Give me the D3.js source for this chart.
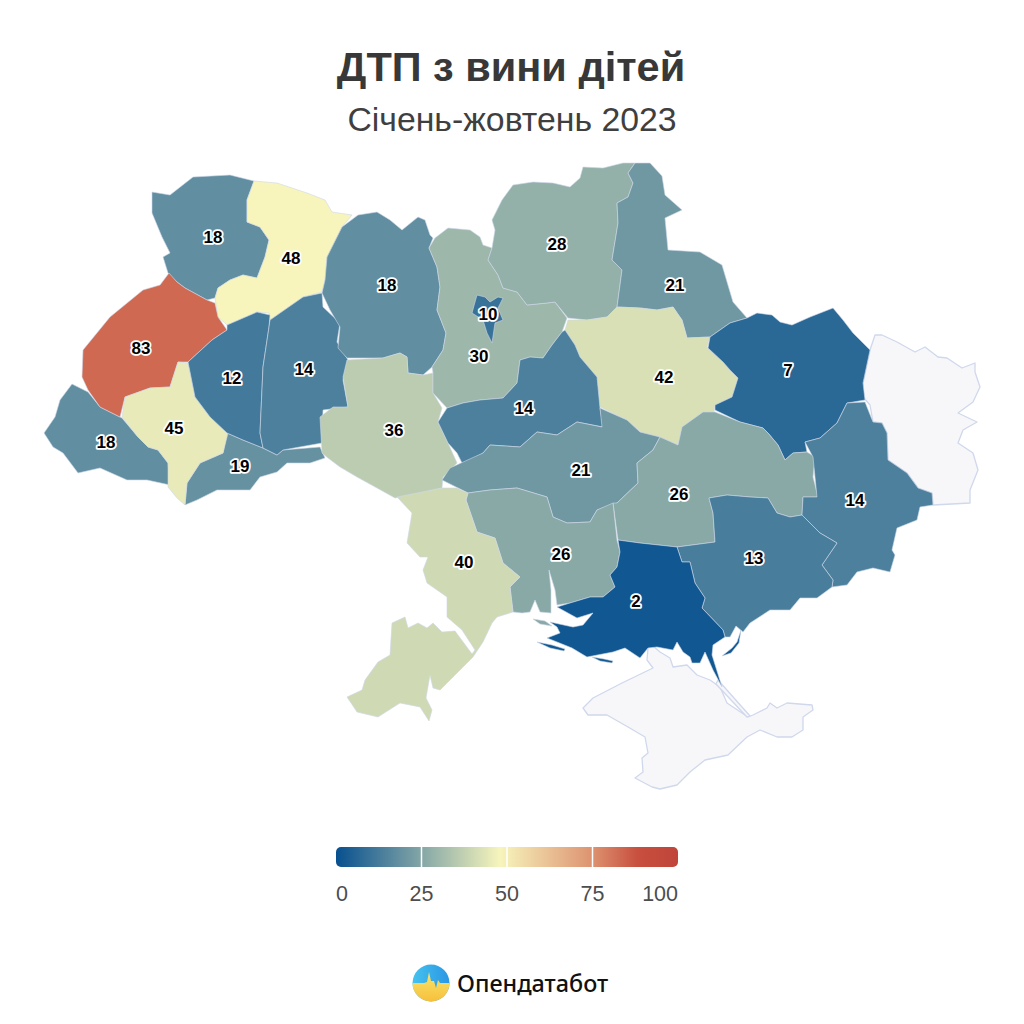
<!DOCTYPE html>
<html>
<head>
<meta charset="utf-8">
<script src="https://cdn.jsdelivr.net/npm/d3@7"></script>
<style>
  html, body { margin: 0; background: #fff; }
  svg { display: block; font-family: "Liberation Sans", Arial, sans-serif; }
  .region { stroke: #cdd6ea; stroke-width: 0.6; stroke-linejoin: round; }
  .nodata { fill: #f7f7f9; stroke: #cfd8ec; stroke-width: 1.3; stroke-linejoin: round; }
  .value { font-size: 17px; font-weight: 700; fill: #000; stroke: #fff; stroke-width: 3.6px;
           stroke-linejoin: round; paint-order: stroke; text-anchor: middle; }
</style>
</head>
<body>
<svg id="chart" width="1024" height="1024"></svg>
<script>
const TITLE = "ДТП з вини дітей";
const SUBTITLE = "Січень-жовтень 2023";
const BRAND = "Опендатабот";

const regions = ["Закарпатська", "Чернівецька", "Волинська", "Рівненська", "Львівська", "Івано-Франківська",
    "Тернопільська", "Хмельницька", "Житомирська", "Вінницька", "Київська", "Київ", "Чернігівська", "Сумська",
    "Полтавська", "Харківська", "Черкаська", "Кіровоградська", "Дніпропетровська", "Донецька", "Запорізька",
    "Миколаївська", "Одеська", "Херсонська"];
const values = [18, 19, 18, 48, 83, 45, 12, 14, 18, 36, 30, 10, 28, 21, 42, 7, 14, 21, 26, 14, 13, 26, 40, 2];

const legendTicks = [0, 25, 50, 75, 100];
const colorStops = [0, 48, 75, 88, 100];
const colorValues = ["#07508f", "#f7f5bc", "#dd9270", "#c8503f", "#c0443a"];

// Region outlines (map units = page pixels)
const outlines = {
    "Закарпатська": [[72,384],[88,392],[100,407],[122,418],[138,437],[148,447],[158,450],[168,463],[170,485],[147,480],[127,480],[100,468],[78,473],[63,453],[53,447],[44,433],[55,417],[60,400]],
    "Чернівецька": [[227,433],[243,440],[263,448],[277,455],[283,450],[320,447],[325,458],[310,463],[287,463],[277,472],[260,477],[250,490],[217,490],[197,500],[185,505],[187,483],[200,463],[223,453]],
    "Волинська": [[152,192],[170,195],[193,177],[230,175],[254,181],[247,200],[247,222],[260,227],[269,240],[265,257],[257,278],[243,275],[230,280],[218,288],[215,298],[207,300],[185,288],[177,282],[168,273],[163,257],[170,253],[162,237],[152,213]],
    "Рівненська": [[254,181],[277,183],[307,193],[325,200],[332,212],[352,215],[342,227],[327,257],[325,280],[322,292],[303,297],[270,320],[269,313],[257,312],[227,325],[218,317],[215,298],[218,288],[230,280],[243,275],[257,278],[265,257],[269,240],[260,227],[247,222],[247,200]],
    "Львівська": [[169,273],[177,282],[185,288],[207,300],[215,303],[218,317],[227,330],[212,340],[188,362],[178,362],[170,387],[150,388],[125,397],[120,417],[100,407],[88,390],[82,377],[83,350],[110,317],[143,290],[160,285]],
    "Івано-Франківська": [[178,362],[188,363],[195,397],[210,417],[228,433],[223,453],[200,463],[187,483],[185,505],[177,498],[168,487],[168,463],[158,450],[148,447],[138,437],[122,417],[125,397],[150,388],[170,387]],
    "Тернопільська": [[227,325],[257,312],[270,315],[269,327],[263,367],[260,433],[263,448],[243,440],[227,433],[210,417],[195,397],[188,362],[212,340],[227,330]],
    "Хмельницька": [[270,320],[303,297],[322,293],[323,307],[340,323],[337,342],[348,360],[343,380],[348,407],[323,410],[322,443],[283,450],[277,455],[263,448],[260,433],[263,367],[269,327]],
    "Житомирська": [[358,215],[377,212],[390,220],[402,230],[418,217],[425,220],[430,235],[433,238],[429,248],[437,267],[440,287],[437,310],[446,333],[443,350],[432,367],[423,375],[408,373],[407,357],[400,353],[383,358],[347,358],[338,348],[340,327],[330,310],[322,293],[325,280],[327,257],[342,227]],
    "Вінницька": [[347,360],[383,358],[400,353],[407,357],[408,373],[423,375],[433,373],[433,393],[442,408],[438,422],[448,443],[457,463],[443,477],[442,488],[420,493],[395,498],[377,488],[357,477],[340,467],[328,458],[322,453],[320,417],[333,407],[348,407],[343,377]],
    "Київська": [[435,238],[448,228],[470,230],[480,237],[483,245],[492,248],[488,260],[498,275],[503,288],[517,292],[527,305],[547,303],[555,302],[567,318],[562,332],[552,345],[543,358],[530,357],[520,360],[517,383],[503,398],[480,400],[463,403],[447,408],[433,393],[433,373],[432,367],[443,350],[446,333],[437,310],[440,287],[437,267],[429,248]],
    "Київ": [[477,295],[485,297],[490,302],[498,297],[503,298],[498,308],[503,320],[495,323],[492,343],[487,333],[483,320],[472,313],[475,302]],
    "Чернігівська": [[492,248],[495,230],[492,220],[502,200],[513,185],[533,182],[553,183],[570,187],[580,178],[583,167],[603,168],[623,163],[635,163],[628,173],[633,183],[628,197],[617,203],[618,223],[612,260],[622,270],[617,307],[607,317],[587,320],[568,318],[555,302],[547,303],[527,305],[517,292],[503,288],[498,275],[488,260]],
    "Сумська": [[635,163],[650,163],[662,176],[665,195],[682,210],[665,218],[668,250],[700,252],[722,265],[733,302],[747,318],[730,323],[710,337],[687,338],[682,320],[673,307],[657,310],[640,308],[617,307],[622,270],[612,260],[618,223],[617,203],[628,197],[633,183],[628,173]],
    "Полтавська": [[568,320],[587,320],[607,317],[617,307],[640,308],[657,310],[673,307],[682,320],[687,338],[710,337],[707,347],[723,362],[730,370],[738,378],[732,397],[715,405],[714,412],[703,412],[682,427],[678,445],[660,437],[640,432],[627,420],[600,407],[597,377],[580,357],[575,345],[565,330]],
    "Харківська": [[710,337],[730,323],[747,318],[757,313],[772,315],[780,322],[792,325],[810,317],[833,308],[843,320],[853,333],[870,350],[863,383],[865,400],[847,403],[837,423],[820,438],[805,442],[807,452],[793,453],[785,460],[778,445],[768,433],[763,428],[740,422],[715,410],[715,405],[732,397],[738,378],[730,370],[723,362],[708,348]],
    "Черкаська": [[565,330],[575,345],[580,357],[597,377],[600,408],[603,427],[577,422],[557,435],[537,432],[520,447],[490,445],[483,453],[463,465],[457,453],[448,443],[438,422],[447,408],[463,403],[480,400],[503,398],[517,383],[520,360],[530,357],[543,358],[552,345],[562,332]],
    "Кіровоградська": [[442,480],[450,468],[483,453],[490,445],[520,447],[537,432],[557,435],[577,422],[602,427],[600,408],[627,420],[640,432],[660,437],[653,450],[637,463],[638,483],[617,503],[597,510],[590,522],[567,523],[553,517],[547,497],[517,488],[490,490],[468,493]],
    "Дніпропетровська": [[678,445],[682,427],[703,412],[715,412],[740,422],[763,428],[768,433],[778,445],[785,460],[793,453],[807,452],[815,457],[813,477],[818,497],[803,497],[802,515],[790,517],[777,513],[768,498],[750,497],[727,495],[709,498],[713,513],[715,542],[677,547],[640,543],[618,540],[613,503],[617,503],[638,483],[637,463],[653,450],[660,437]],
    "Донецька": [[847,403],[865,402],[873,422],[882,423],[887,433],[888,460],[907,473],[918,488],[932,493],[933,505],[920,507],[917,520],[897,528],[892,550],[895,555],[890,572],[873,568],[857,572],[847,585],[832,587],[833,580],[822,565],[837,543],[820,533],[802,515],[803,497],[817,497],[813,457],[805,442],[820,438],[837,423]],
    "Запорізька": [[709,498],[727,495],[750,497],[768,498],[777,513],[790,517],[802,515],[820,533],[837,543],[822,565],[833,580],[832,587],[817,598],[800,598],[790,610],[770,610],[750,623],[743,632],[736,626],[730,637],[725,637],[723,630],[702,608],[705,598],[695,583],[690,562],[682,562],[677,547],[715,542],[713,513]],
    "Миколаївська": [[468,493],[490,490],[517,488],[547,497],[553,517],[567,523],[590,522],[597,510],[613,503],[617,540],[620,552],[617,567],[610,575],[615,587],[603,597],[590,597],[570,603],[557,605],[555,590],[549,570],[551,590],[551,613],[540,612],[535,600],[530,612],[522,613],[513,612],[510,587],[520,577],[503,563],[495,538],[477,532],[466,500]],
    "Одеська": [[397,497],[417,493],[442,488],[457,488],[468,493],[466,500],[477,532],[495,538],[503,563],[520,577],[510,587],[513,612],[497,617],[492,623],[483,642],[473,657],[457,673],[440,690],[433,688],[430,675],[426,698],[432,710],[429,721],[420,707],[400,703],[378,717],[357,712],[347,697],[362,690],[365,680],[378,662],[390,655],[392,623],[405,617],[408,628],[418,623],[427,628],[433,623],[442,632],[455,631],[472,654],[475,650],[462,630],[447,617],[447,597],[427,583],[423,570],[428,557],[420,557],[407,543],[412,513]],
    "Херсонська": [[618,540],[640,543],[677,547],[682,562],[690,562],[695,583],[705,598],[702,608],[723,630],[725,637],[713,645],[712,655],[722,687],[713,670],[705,652],[700,663],[692,663],[690,657],[683,652],[677,642],[673,650],[657,647],[648,648],[640,658],[625,648],[613,652],[587,657],[572,648],[547,638],[560,633],[557,627],[550,622],[573,627],[583,625],[593,613],[577,618],[557,607],[570,603],[590,597],[603,597],[615,587],[610,575],[617,567],[620,552]]
};

// small islands and spits belonging to the regions above
const islands = [
    { region: "Херсонська", ring: [[537,642],[552,645],[565,649],[564,651],[550,648]] },
    { region: "Херсонська", ring: [[592,657],[604,659],[613,661],[612,663],[600,661]] },
    { region: "Херсонська", ring: [[722,656],[732,648],[737,642],[741,630],[739,643],[731,653]] },
    { region: "Миколаївська", ring: [[533,619],[545,621],[552,626],[540,624]] }
];

const noData = {
    "Луганська": [[870,350],[875,335],[882,335],[897,342],[915,352],[925,347],[938,357],[947,358],[962,368],[975,363],[975,372],[980,387],[973,402],[958,413],[977,422],[963,430],[958,443],[973,453],[978,470],[970,490],[970,503],[933,505],[932,493],[918,488],[907,473],[888,460],[887,433],[882,423],[873,422],[870,405],[863,397],[863,383]],
    "Крим": [[648,648],[652,645],[660,652],[670,658],[673,667],[687,665],[697,675],[710,680],[720,687],[727,703],[748,717],[753,715],[767,708],[770,703],[777,708],[787,703],[812,705],[813,710],[803,717],[803,730],[792,737],[777,737],[760,730],[747,737],[728,755],[705,760],[690,772],[677,785],[660,789],[652,787],[635,778],[643,772],[642,758],[648,753],[645,737],[628,727],[607,715],[588,715],[583,708],[593,698],[622,683],[653,668],[647,660]],
    "Арабатська стрілка": [[718,680],[750,716],[747,717],[716,684]]
};

// where each number sits
const labelAt = [[106,442],[240,466],[213,237],[291,258],[141,348],[174,428],[232,378],[304,369],[387,285],[394,430],
    [479,356],[488,314],[557,244],[675,285],[664,377],[788,370],[524,408],[581,470],[679,494],[855,500],[754,558],
    [561,554],[464,562],[636,601]];

const svg = d3.select("#chart");

const color = d3.scaleLinear().domain(colorStops).range(colorValues).interpolate(d3.interpolateRgb);
const path = d3.geoPath(d3.geoIdentity());
const toFeature = (ring, props) => ({ type: "Feature", properties: props, geometry: { type: "Polygon", coordinates: [[...ring, ring[0]]] } });

// Title
svg.append("text").attr("x", 511).attr("y", 81).attr("text-anchor", "middle")
    .attr("font-size", 41.5).attr("font-weight", 700).attr("fill", "#383838").text(TITLE);
svg.append("text").attr("x", 512).attr("y", 131).attr("text-anchor", "middle")
    .attr("font-size", 33.8).attr("fill", "#3f3f3f").text(SUBTITLE);

// Map
const map = svg.append("g");
map.selectAll("path.nodata")
    .data(Object.entries(noData).map(([name, ring]) => toFeature(ring, { name })))
    .join("path").attr("class", "nodata").attr("d", path);

const valueOf = new Map(regions.map((r, i) => [r, values[i]]));
map.selectAll("path.region")
    .data(regions.map((name) => toFeature(outlines[name], { name })))
    .join("path").attr("class", "region").attr("d", path)
    .attr("fill", (d) => color(valueOf.get(d.properties.name)));
map.selectAll("path.island")
    .data(islands.map((d) => toFeature(d.ring, { name: d.region })))
    .join("path").attr("class", "region island").attr("d", path)
    .attr("fill", (d) => color(valueOf.get(d.properties.name)));

map.selectAll("text.value")
    .data(regions)
    .join("text").attr("class", "value")
    .attr("x", (_, i) => labelAt[i][0])
    .attr("y", (_, i) => labelAt[i][1])
    .attr("dy", "0.36em")
    .text((_, i) => values[i]);

// Legend
const legendX = d3.scaleLinear().domain([0, 100]).range([336, 678]);
const grad = svg.append("defs").append("linearGradient").attr("id", "legend-grad");
colorStops.forEach((s, i) => {
    grad.append("stop").attr("offset", `${s}%`).attr("stop-color", colorValues[i]);
});
svg.append("rect").attr("x", legendX(0)).attr("y", 847)
    .attr("width", legendX(100) - legendX(0)).attr("height", 20).attr("rx", 5)
    .attr("fill", "url(#legend-grad)");
svg.selectAll("line.tick")
    .data(legendTicks.slice(1, -1))
    .join("line").attr("class", "tick")
    .attr("x1", legendX).attr("x2", legendX).attr("y1", 847).attr("y2", 867)
    .attr("stroke", "#fff").attr("stroke-width", 1.5);
svg.selectAll("text.tick")
    .data(legendTicks)
    .join("text").attr("class", "tick")
    .attr("x", (d) => legendX(d))
    .attr("y", 901)
    .attr("font-size", 21.5).attr("fill", "#4d4d4d")
    .attr("text-anchor", (d) => (d === 0 ? "start" : d === 100 ? "end" : "middle"))
    .text((d) => d);

// Logo
const logo = svg.append("g").attr("transform", "translate(431,983)");
const defs = svg.select("defs");
defs.append("clipPath").attr("id", "logo-clip").append("circle").attr("r", 18.5);
const sky = defs.append("linearGradient").attr("id", "logo-sky").attr("x1", 0).attr("x2", 1).attr("y1", 0).attr("y2", 0);
sky.append("stop").attr("offset", "0%").attr("stop-color", "#45c3ee");
sky.append("stop").attr("offset", "100%").attr("stop-color", "#2a96e4");
const sun = defs.append("linearGradient").attr("id", "logo-sun").attr("x1", 0).attr("x2", 0).attr("y1", 0).attr("y2", 1);
sun.append("stop").attr("offset", "0%").attr("stop-color", "#f7e56c");
sun.append("stop").attr("offset", "100%").attr("stop-color", "#f8bf3a");
const mark = logo.append("g").attr("clip-path", "url(#logo-clip)");
mark.append("rect").attr("x", -19).attr("y", -19).attr("width", 38).attr("height", 38).attr("fill", "url(#logo-sky)");
mark.append("path").attr("fill", "url(#logo-sun)")
    .attr("d", "M-19,0 L-7,0 L-4,-1 L-2,-11 L0,-2 L3,-2 L5,5 L7,-3 L9,0 L19,0 L19,19 L-19,19 Z");
svg.append("text").attr("x", 457).attr("y", 992)
    .attr("font-family", "'Noto Sans', sans-serif").attr("font-size", 23.4).attr("font-weight", 500)
    .attr("fill", "#111").text(BRAND);
</script>
</body>
</html>
